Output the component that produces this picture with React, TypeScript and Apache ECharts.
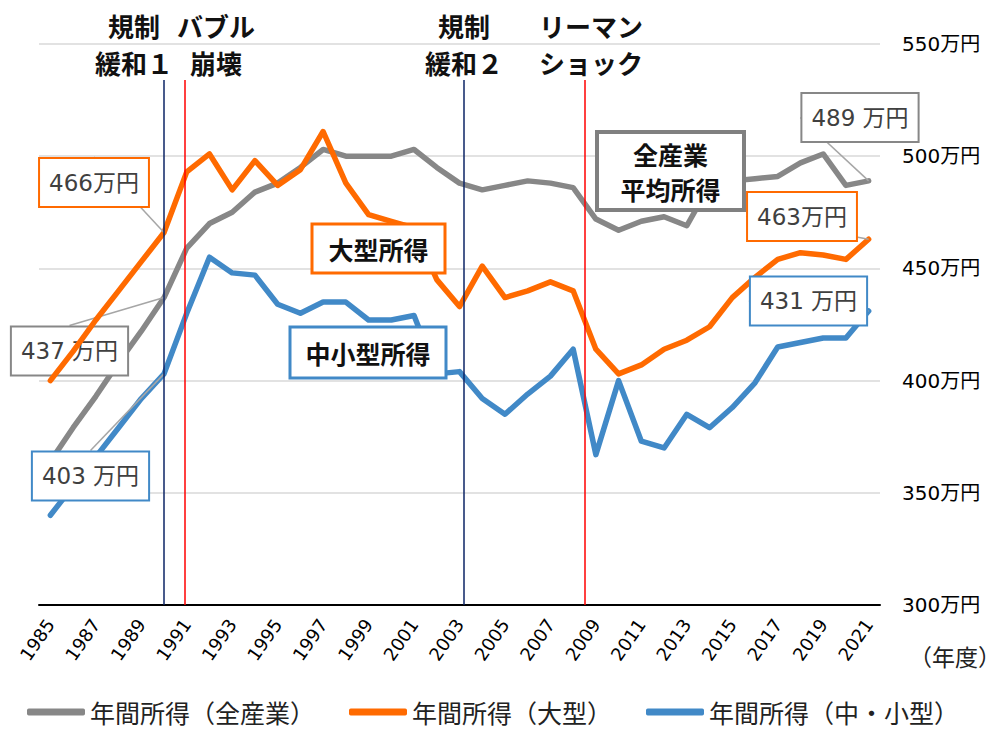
import { useEffect, useRef } from "react";
import * as echarts from "echarts";

const years = [
  "1985", "1986", "1987", "1988", "1989", "1990", "1991", "1992", "1993", "1994",
  "1995", "1996", "1997", "1998", "1999", "2000", "2001", "2002", "2003", "2004",
  "2005", "2006", "2007", "2008", "2009", "2010", "2011", "2012", "2013", "2014",
  "2015", "2016", "2017", "2018", "2019", "2020", "2021",
];

const allIndustry = [
  364, 379, 393, 408, 422, 437, 459, 470, 475, 484,
  488, 495, 503, 500, 500, 500, 503, 495, 488, 485,
  487, 489, 488, 486, 472, 467, 471, 473, 469, 487,
  489, 490, 491, 497, 501, 487, 489,
];

const largeFirms = [
  400, 413, 427, 440, 453, 466, 493, 501, 485, 498,
  487, 494, 511, 488, 474, 471, 468, 445, 433, 451,
  437, 440, 444, 440, 414, 403, 407, 414, 418, 424,
  437, 446, 454, 457, 456, 454, 463,
];

const smallMedium = [
  340, 353, 366, 379, 392, 403, 430, 455, 448, 447,
  434, 430, 435, 435, 427, 427, 429, 403, 404, 392,
  385, 394, 402, 414, 367, 400, 373, 370, 385, 379,
  388, 399, 415, 417, 419, 419, 431,
];

const seriesNames = ["年間所得（全産業）", "年間所得（大型）", "年間所得（中・小型）"];
const seriesColors = ["#878787", "#ff6a00", "#4189c7"];
const labelSuffix = [" 万円", "万円", " 万円"];
const labelIndices = [5, 36];

const yMin = 300;
const yMax = 550;
const yStep = 50;

// event markers: fractional year position on a hidden value axis
const eventYears = [1990.0, 1990.9, 2003.2, 2008.5];
const eventColors = ["#0d2566", "#ff0000", "#0d2566", "#ff0000"];
const eventTopValue = 534;
const eventTexts = ["規制\n緩和１", "バブル\n崩壊", "規制\n緩和２", "リーマン\nショック"];

const FONT = "'DejaVu Sans', 'Noto Sans CJK JP', sans-serif";
const JFONT = "'Noto Sans CJK JP', sans-serif";

// label box centres (layout only)
const labelBoxCenters: Record<string, [number, number]> = {
  "0-5": [69.5, 351],
  "1-5": [94, 182.5],
  "2-5": [90.5, 476],
  "0-36": [860, 117.5],
  "1-36": [802, 216.5],
  "2-36": [808.5, 301],
};

const eventTextPos: [number, number][] = [
  [134, 43.5],
  [216, 43.5],
  [464, 43.5],
  [591, 43.5],
];

export default function App() {
  const ref = useRef<HTMLDivElement>(null);

  useEffect(() => {
    if (!ref.current) return;
    const chart = echarts.init(ref.current, undefined, { renderer: "svg" });
    const values = [allIndustry, largeFirms, smallMedium];

    const lineSeries = values.map((vals, si) => ({
      name: seriesNames[si],
      type: "line",
      data: vals.map((v, i) =>
        labelIndices.includes(i)
          ? { value: v, label: { show: true }, labelLine: { show: true } }
          : v
      ),
      symbol: "circle",
      symbolSize: 0,
      showSymbol: true,
      showAllSymbol: true,
      z: 2 + si,
      lineStyle: { color: seriesColors[si], width: 5.5, cap: "round", join: "round" },
      itemStyle: { color: seriesColors[si] },
      emphasis: { disabled: true },
      label: {
        show: false,
        formatter: (p: any) => `${p.value}${labelSuffix[si]}`,
        fontSize: 23,
        fontFamily: FONT,
        color: "#404040",
        backgroundColor: "#ffffff",
        borderColor: seriesColors[si],
        borderWidth: 2,
        padding: [11, 9],
        lineHeight: 25,
      },
      labelLine: { show: false, lineStyle: { color: "#a6a6a6", width: 1.5 } },
      labelLayout: (p: any) => {
        const c = labelBoxCenters[`${si}-${p.dataIndex}`];
        return c ? { x: c[0], y: c[1], align: "center", verticalAlign: "middle" } : {};
      },
    }));

    const eventSeries = {
      name: "events",
      type: "line",
      xAxisIndex: 1,
      yAxisIndex: 0,
      data: [],
      silent: true,
      markLine: {
        silent: true,
        symbol: ["none", "none"],
        label: { show: false },
        animation: false,
        data: eventYears.map((yr, i) => [
          { coord: [yr, eventTopValue], lineStyle: { color: eventColors[i], width: 1.5, type: "solid" } },
          { coord: [yr, yMin] },
        ]),
      },
    };

    const graphics: any[] = [];
    eventTexts.forEach((t, i) => {
      graphics.push({
        type: "text",
        x: eventTextPos[i][0],
        y: eventTextPos[i][1],
        z: 100,
        style: {
          text: t,
          align: "center",
          verticalAlign: "middle",
          fontSize: 26,
          fontWeight: "bold",
          fontFamily: JFONT,
          lineHeight: 37,
          fill: "#111",
        },
      });
    });

    const boxes = [
      { x: 312, y: 224, w: 133, h: 49, color: seriesColors[1], lw: 3, text: "大型所得", lh: 30 },
      { x: 290, y: 327, w: 156, h: 51, color: seriesColors[2], lw: 3, text: "中小型所得", lh: 30 },
      { x: 597, y: 132, w: 147, h: 78, color: "#808080", lw: 4, text: "全産業\n平均所得", lh: 35 },
    ];
    boxes.forEach((b) => {
      graphics.push({
        type: "rect",
        z: 100,
        shape: { x: b.x, y: b.y, width: b.w, height: b.h },
        style: { fill: "#ffffff", stroke: b.color, lineWidth: b.lw },
      });
      graphics.push({
        type: "text",
        z: 101,
        x: b.x + b.w / 2,
        y: b.y + b.h / 2,
        style: {
          text: b.text,
          align: "center",
          verticalAlign: "middle",
          fontSize: 25,
          fontWeight: "bold",
          fontFamily: JFONT,
          lineHeight: b.lh,
          fill: "#111",
        },
      });
    });
    graphics.push({
      type: "text",
      x: 909,
      y: 656,
      z: 100,
      style: {
        text: "（年度）",
        align: "left",
        verticalAlign: "middle",
        fontSize: 23,
        fontFamily: JFONT,
        fill: "#222",
      },
    });

    chart.setOption({
      animation: false,
      textStyle: { fontFamily: FONT },
      grid: { left: 39, right: 123, top: 44, bottom: 125, containLabel: false },
      legend: {
        data: seriesNames,
        left: 22,
        top: 693,
        icon: "roundRect",
        itemWidth: 58,
        itemHeight: 7,
        itemGap: 34,
        textStyle: { fontSize: 25, lineHeight: 28, fontFamily: JFONT, color: "#222" },
      },
      xAxis: [
        {
          type: "category",
          data: years,
          boundaryGap: true,
          axisLine: { lineStyle: { color: "#000", width: 2 } },
          axisTick: { show: false },
          axisLabel: {
            interval: 1,
            rotate: 55,
            margin: 16,
            fontSize: 18,
            color: "#000",
            fontFamily: FONT,
          },
          splitLine: { show: false },
        },
        {
          type: "value",
          show: false,
          min: 1984.5,
          max: 2021.5,
          splitLine: { show: false },
        },
      ],
      yAxis: {
        type: "value",
        position: "right",
        min: yMin,
        max: yMax,
        interval: yStep,
        axisLine: { show: false },
        axisTick: { show: false },
        axisLabel: {
          formatter: "{value}万円",
          margin: 22,
          fontSize: 20,
          color: "#000",
          fontFamily: FONT,
        },
        splitLine: { lineStyle: { color: "#d9d9d9", width: 1.5 } },
      },
      series: [...lineSeries, eventSeries],
      graphic: graphics,
    });

    return () => chart.dispose();
  }, []);

  return (
    <div
      ref={ref}
      style={{ position: "fixed", left: 0, top: 0, width: 1003, height: 730, background: "#fff" }}
    />
  );
}
